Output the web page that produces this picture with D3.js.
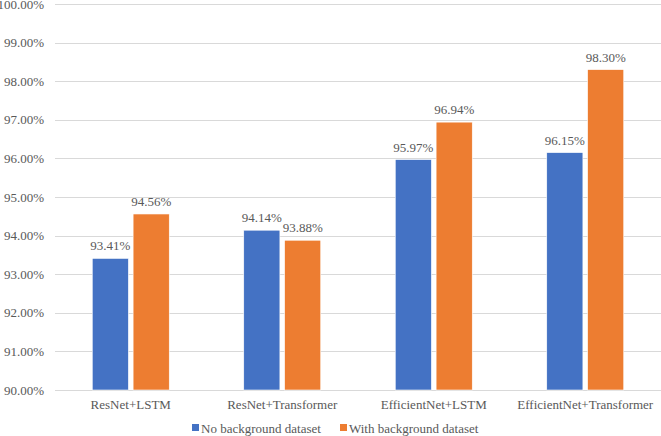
<!DOCTYPE html>
<html lang="en">
  <head>
    <meta charset="utf-8">
    <title>Accuracy chart</title>
    <script src="https://cdn.jsdelivr.net/npm/d3@7"></script>
    <style>
      body { margin: 0; background: #fff; }
    </style>
  </head>
  <body>
    <div id="chart"></div>
    <script>
      let categories = ['ResNet+LSTM', 'ResNet+Transformer', 'EfficientNet+LSTM', 'EfficientNet+Transformer']
      let seriesNames = ['No background dataset', 'With background dataset']
      let noBackground = [93.41, 94.14, 95.97, 96.15]
      let withBackground = [94.56, 93.88, 96.94, 98.30]
      let yTicks = [90, 91, 92, 93, 94, 95, 96, 97, 98, 99, 100]
      let colors = ['#4472C4', '#ED7D31']
      let FONT = '"Liberation Serif", "Times New Roman", "DejaVu Serif", serif'

      let W = 661, H = 436
      let margin = {top: 4, right: 0, bottom: 46, left: 55}
      let width = W - margin.left - margin.right
      let height = H - margin.top - margin.bottom

      let svg = d3.select('#chart').append('svg')
        .attr('width', W)
        .attr('height', H)
      let canvas = svg.append('g')
        .attr('transform', 'translate(' + margin.left + ',' + margin.top + ')')

      let scale_x = d3.scaleBand()
        .domain(categories)
        .range([0, width])
      let scale_inner = d3.scaleBand()
        .domain([0, 1])
        .range([-38.5, 38.5])
        .paddingInner(0.115)
      let scale_y = d3.scaleLinear()
        .domain([90, 100])
        .range([height, 0])

      // gridlines
      canvas.selectAll('line.grid')
        .data(yTicks)
        .enter()
        .append('line')
        .attr('class', 'grid')
        .attr('x1', 0)
        .attr('x2', width)
        .attr('y1', d => Math.round(scale_y(d)) + 0.5)
        .attr('y2', d => Math.round(scale_y(d)) + 0.5)
        .attr('stroke', '#d9d9d9')
        .attr('stroke-width', 1)

      // y axis labels
      let y_axis = d3.axisLeft(scale_y)
        .tickValues(yTicks)
        .tickSize(0)
        .tickPadding(11)
        .tickFormat(d => d.toFixed(2) + '%')
      let yg = canvas.append('g').call(y_axis)
      yg.select('.domain').remove()

      // x axis labels
      let x_axis = d3.axisBottom(scale_x).tickSize(0).tickPadding(10)
      let xg = canvas.append('g')
        .attr('transform', 'translate(0,' + height + ')')
        .call(x_axis)
      xg.select('.domain').remove()

      let series = [noBackground, withBackground]
      series.forEach((vals, si) => {
        let g = canvas.append('g')
        g.selectAll('rect')
          .data(vals)
          .enter()
          .append('rect')
          .attr('x', (d, i) => scale_x(categories[i]) + scale_x.bandwidth() / 2 + scale_inner(si))
          .attr('y', d => scale_y(d))
          .attr('width', scale_inner.bandwidth())
          .attr('height', d => height - scale_y(d))
          .attr('fill', colors[si])
          .attr('stroke', '#ffffff')
          .attr('stroke-width', 0.6)
        g.selectAll('text')
          .data(vals)
          .enter()
          .append('text')
          .attr('x', (d, i) => scale_x(categories[i]) + scale_x.bandwidth() / 2 + scale_inner(si) + scale_inner.bandwidth() / 2)
          .attr('y', d => scale_y(d) - 8)
          .attr('text-anchor', 'middle')
          .text(d => d.toFixed(2) + '%')
      })

      // legend
      let legend = svg.append('g').attr('transform', 'translate(0,' + 428 + ')')
      let legendX = [192, 340]
      seriesNames.forEach((name, i) => {
        legend.append('rect')
          .attr('x', legendX[i])
          .attr('y', -4)
          .attr('width', 7)
          .attr('height', 7)
          .attr('fill', colors[i])
        legend.append('text')
          .attr('x', legendX[i] + 9)
          .attr('y', 0)
          .attr('dy', '0.35em')
          .text(name)
      })

      // one font for every text
      svg.selectAll('text')
        .style('font-family', FONT)
        .style('font-size', '13px')
        .style('fill', '#595959')
    </script>
  </body>
</html>
